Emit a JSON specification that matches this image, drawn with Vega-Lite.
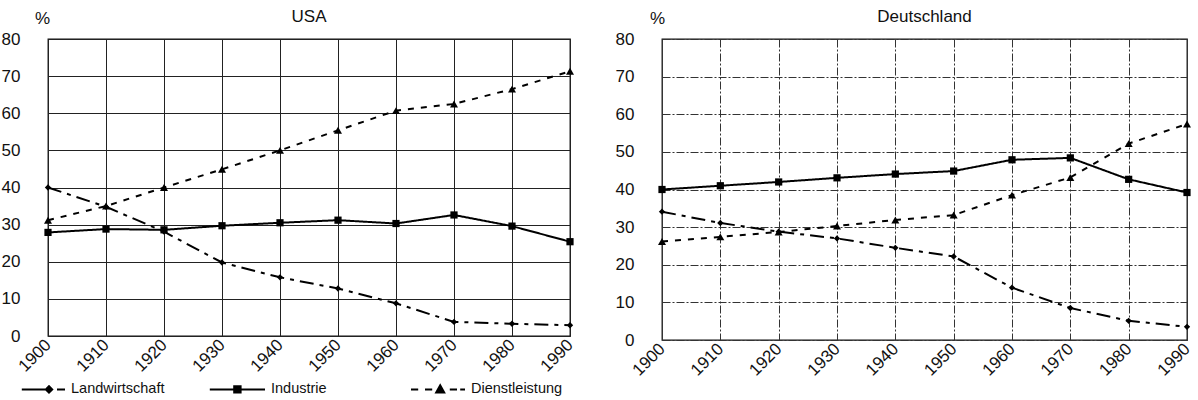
{
  "$schema": "https://vega.github.io/schema/vega-lite/v6.json",
  "padding": {"left": 0, "top": 7, "right": 4, "bottom": 0},
  "config": {
    "font": "Liberation Sans",
    "view": {"stroke": "#111", "strokeWidth": 1.3},
    "axis": {"labelFont": "Liberation Sans", "labelFontSize": 17, "labelColor": "#111", "ticks": false, "domain": false, "gridColor": "#222", "gridOpacity": 1, "gridWidth": 1, "titleFont": "Liberation Sans", "titleFontSize": 17, "titleFontWeight": "normal", "titleColor": "#111"},
    "title": {"fontSize": 17, "fontWeight": "normal", "color": "#111", "offset": -17, "font": "Liberation Sans"},
    "concat": {"spacing": 37},
    "legend": {"labelFont": "Liberation Sans"}
  },
  "datasets": {
    "d": [
      {"land": "USA", "reihe": "Landwirtschaft", "jahr": 1900, "wert": 40},
      {"land": "USA", "reihe": "Landwirtschaft", "jahr": 1910, "wert": 34.8},
      {"land": "USA", "reihe": "Landwirtschaft", "jahr": 1920, "wert": 28.1},
      {"land": "USA", "reihe": "Landwirtschaft", "jahr": 1930, "wert": 19.8},
      {"land": "USA", "reihe": "Landwirtschaft", "jahr": 1940, "wert": 15.8},
      {"land": "USA", "reihe": "Landwirtschaft", "jahr": 1950, "wert": 12.8},
      {"land": "USA", "reihe": "Landwirtschaft", "jahr": 1960, "wert": 8.8},
      {"land": "USA", "reihe": "Landwirtschaft", "jahr": 1970, "wert": 3.8},
      {"land": "USA", "reihe": "Landwirtschaft", "jahr": 1980, "wert": 3.3},
      {"land": "USA", "reihe": "Landwirtschaft", "jahr": 1990, "wert": 2.9},
      {"land": "USA", "reihe": "Industrie", "jahr": 1900, "wert": 27.9},
      {"land": "USA", "reihe": "Industrie", "jahr": 1910, "wert": 28.8},
      {"land": "USA", "reihe": "Industrie", "jahr": 1920, "wert": 28.6},
      {"land": "USA", "reihe": "Industrie", "jahr": 1930, "wert": 29.7},
      {"land": "USA", "reihe": "Industrie", "jahr": 1940, "wert": 30.5},
      {"land": "USA", "reihe": "Industrie", "jahr": 1950, "wert": 31.2},
      {"land": "USA", "reihe": "Industrie", "jahr": 1960, "wert": 30.3},
      {"land": "USA", "reihe": "Industrie", "jahr": 1970, "wert": 32.6},
      {"land": "USA", "reihe": "Industrie", "jahr": 1980, "wert": 29.6},
      {"land": "USA", "reihe": "Industrie", "jahr": 1990, "wert": 25.4},
      {"land": "USA", "reihe": "Dienstleistung", "jahr": 1900, "wert": 31.2},
      {"land": "USA", "reihe": "Dienstleistung", "jahr": 1910, "wert": 35},
      {"land": "USA", "reihe": "Dienstleistung", "jahr": 1920, "wert": 40},
      {"land": "USA", "reihe": "Dienstleistung", "jahr": 1930, "wert": 44.9},
      {"land": "USA", "reihe": "Dienstleistung", "jahr": 1940, "wert": 50},
      {"land": "USA", "reihe": "Dienstleistung", "jahr": 1950, "wert": 55.4},
      {"land": "USA", "reihe": "Dienstleistung", "jahr": 1960, "wert": 60.7},
      {"land": "USA", "reihe": "Dienstleistung", "jahr": 1970, "wert": 62.5},
      {"land": "USA", "reihe": "Dienstleistung", "jahr": 1980, "wert": 66.5},
      {"land": "USA", "reihe": "Dienstleistung", "jahr": 1990, "wert": 71.3},
      {"land": "Deutschland", "reihe": "Landwirtschaft", "jahr": 1900, "wert": 34.1},
      {"land": "Deutschland", "reihe": "Landwirtschaft", "jahr": 1910, "wert": 31.1},
      {"land": "Deutschland", "reihe": "Landwirtschaft", "jahr": 1920, "wert": 28.8},
      {"land": "Deutschland", "reihe": "Landwirtschaft", "jahr": 1930, "wert": 27},
      {"land": "Deutschland", "reihe": "Landwirtschaft", "jahr": 1940, "wert": 24.5},
      {"land": "Deutschland", "reihe": "Landwirtschaft", "jahr": 1950, "wert": 22.2},
      {"land": "Deutschland", "reihe": "Landwirtschaft", "jahr": 1960, "wert": 13.9},
      {"land": "Deutschland", "reihe": "Landwirtschaft", "jahr": 1970, "wert": 8.5},
      {"land": "Deutschland", "reihe": "Landwirtschaft", "jahr": 1980, "wert": 5.1},
      {"land": "Deutschland", "reihe": "Landwirtschaft", "jahr": 1990, "wert": 3.5},
      {"land": "Deutschland", "reihe": "Industrie", "jahr": 1900, "wert": 40},
      {"land": "Deutschland", "reihe": "Industrie", "jahr": 1910, "wert": 41},
      {"land": "Deutschland", "reihe": "Industrie", "jahr": 1920, "wert": 42},
      {"land": "Deutschland", "reihe": "Industrie", "jahr": 1930, "wert": 43.1},
      {"land": "Deutschland", "reihe": "Industrie", "jahr": 1940, "wert": 44.1},
      {"land": "Deutschland", "reihe": "Industrie", "jahr": 1950, "wert": 44.9},
      {"land": "Deutschland", "reihe": "Industrie", "jahr": 1960, "wert": 47.9},
      {"land": "Deutschland", "reihe": "Industrie", "jahr": 1970, "wert": 48.4},
      {"land": "Deutschland", "reihe": "Industrie", "jahr": 1980, "wert": 42.7},
      {"land": "Deutschland", "reihe": "Industrie", "jahr": 1990, "wert": 39.2},
      {"land": "Deutschland", "reihe": "Dienstleistung", "jahr": 1900, "wert": 26.2},
      {"land": "Deutschland", "reihe": "Dienstleistung", "jahr": 1910, "wert": 27.4},
      {"land": "Deutschland", "reihe": "Dienstleistung", "jahr": 1920, "wert": 28.7},
      {"land": "Deutschland", "reihe": "Dienstleistung", "jahr": 1930, "wert": 30.3},
      {"land": "Deutschland", "reihe": "Dienstleistung", "jahr": 1940, "wert": 31.9},
      {"land": "Deutschland", "reihe": "Dienstleistung", "jahr": 1950, "wert": 33.2},
      {"land": "Deutschland", "reihe": "Dienstleistung", "jahr": 1960, "wert": 38.5},
      {"land": "Deutschland", "reihe": "Dienstleistung", "jahr": 1970, "wert": 43.2},
      {"land": "Deutschland", "reihe": "Dienstleistung", "jahr": 1980, "wert": 52.2},
      {"land": "Deutschland", "reihe": "Dienstleistung", "jahr": 1990, "wert": 57.4}
    ]
  },
  "hconcat": [
    {
      "width": 522,
      "height": 297,
      "title": "USA",
      "data": {"name": "d"},
      "transform": [{"filter": "datum.land === 'USA'"}],
      "encoding": {
        "x": {"field": "jahr", "type": "quantitative", "scale": {"domain": [1900, 1990], "nice": false, "zero": false}, "axis": {"values": [1900, 1910, 1920, 1930, 1940, 1950, 1960, 1970, 1980, 1990], "format": "d", "labelAngle": -45, "labelAlign": "right", "labelBaseline": "middle", "title": null, "labelPadding": 6}},
        "y": {"field": "wert", "type": "quantitative", "scale": {"domain": [0, 80], "nice": false}, "axis": {"values": [0, 10, 20, 30, 40, 50, 60, 70, 80], "title": "%", "titleAngle": 0, "titleX": -6, "titleY": -21, "titleAlign": "center", "titleBaseline": "middle", "labelPadding": 28}}
      },
      "layer": [
        {"mark": {"type": "line", "color": "black", "strokeWidth": 2},
         "encoding": {"strokeDash": {"field": "reihe", "type": "nominal", "scale": {"domain": ["Landwirtschaft", "Industrie", "Dienstleistung"], "range": [[14, 6, 4, 6], [1, 0], [6, 7]]}, "legend": null}}},
        {"mark": {"type": "point", "filled": true, "color": "black", "opacity": 1},
         "encoding": {
           "shape": {"field": "reihe", "type": "nominal", "scale": {"domain": ["Landwirtschaft", "Industrie", "Dienstleistung"], "range": ["diamond", "square", "triangle-up"]}, "legend": null},
           "size": {"field": "reihe", "type": "ordinal", "scale": {"domain": ["Landwirtschaft", "Industrie", "Dienstleistung"], "range": [40, 64, 80]}, "legend": null}}},
        {"mark": {"type": "point", "fill": "black", "stroke": "black", "strokeWidth": 2, "opacity": 0},
         "encoding": {
           "shape": {"field": "reihe", "type": "nominal", "scale": {"domain": ["Landwirtschaft", "Industrie", "Dienstleistung"], "range": ["M-3.4,0H-0.5M-0.4,0L0,-0.4L0.4,0L0,0.4ZM1,0H2", "M-4.9,0H2M-1.85,-0.4H-1.05V0.4H-1.85Z", "M-4.75,0H-3.85M-3,0H-2.1M-1.6,0.4L-1.1,-0.5L-0.6,0.4ZM0.1,0H1M1.4,0H2"]},
             "legend": {"title": null, "orient": "none", "direction": "horizontal", "legendX": -8, "legendY": 341, "symbolSize": 256, "symbolStrokeWidth": 2, "symbolOpacity": 1, "labelFontSize": 14.5, "labelColor": "#111", "labelOffset": 13, "columnPadding": 40, "gridAlign": "all", "columns": 3, "labelLimit": 200}}}}
      ],
      "resolve": {"scale": {"shape": "independent", "size": "independent"}, "legend": {"shape": "independent"}}
    },
    {
      "width": 525,
      "height": 301,
      "title": "Deutschland",
      "data": {"name": "d"},
      "transform": [{"filter": "datum.land === 'Deutschland'"}],
      "encoding": {
        "x": {"field": "jahr", "type": "quantitative", "scale": {"domain": [1900, 1990], "nice": false, "zero": false}, "axis": {"values": [1900, 1910, 1920, 1930, 1940, 1950, 1960, 1970, 1980, 1990], "format": "d", "labelAngle": -45, "labelAlign": "right", "labelBaseline": "middle", "title": null, "labelPadding": 6, "gridDash": [8, 2, 2, 2], "gridColor": "#333"}},
        "y": {"field": "wert", "type": "quantitative", "scale": {"domain": [0, 80], "nice": false}, "axis": {"values": [0, 10, 20, 30, 40, 50, 60, 70, 80], "title": "%", "titleAngle": 0, "titleX": -5, "titleY": -21, "titleAlign": "center", "titleBaseline": "middle", "labelPadding": 28, "gridDash": [8, 2, 2, 2], "gridColor": "#333"}}
      },
      "layer": [
        {"mark": {"type": "line", "color": "black", "strokeWidth": 2},
         "encoding": {"strokeDash": {"field": "reihe", "type": "nominal", "scale": {"domain": ["Landwirtschaft", "Industrie", "Dienstleistung"], "range": [[14, 6, 4, 6], [1, 0], [6, 7]]}, "legend": null}}},
        {"mark": {"type": "point", "filled": true, "color": "black", "opacity": 1},
         "encoding": {
           "shape": {"field": "reihe", "type": "nominal", "scale": {"domain": ["Landwirtschaft", "Industrie", "Dienstleistung"], "range": ["diamond", "square", "triangle-up"]}, "legend": null},
           "size": {"field": "reihe", "type": "ordinal", "scale": {"domain": ["Landwirtschaft", "Industrie", "Dienstleistung"], "range": [40, 64, 80]}, "legend": null}}}
      ]
    }
  ]
}
